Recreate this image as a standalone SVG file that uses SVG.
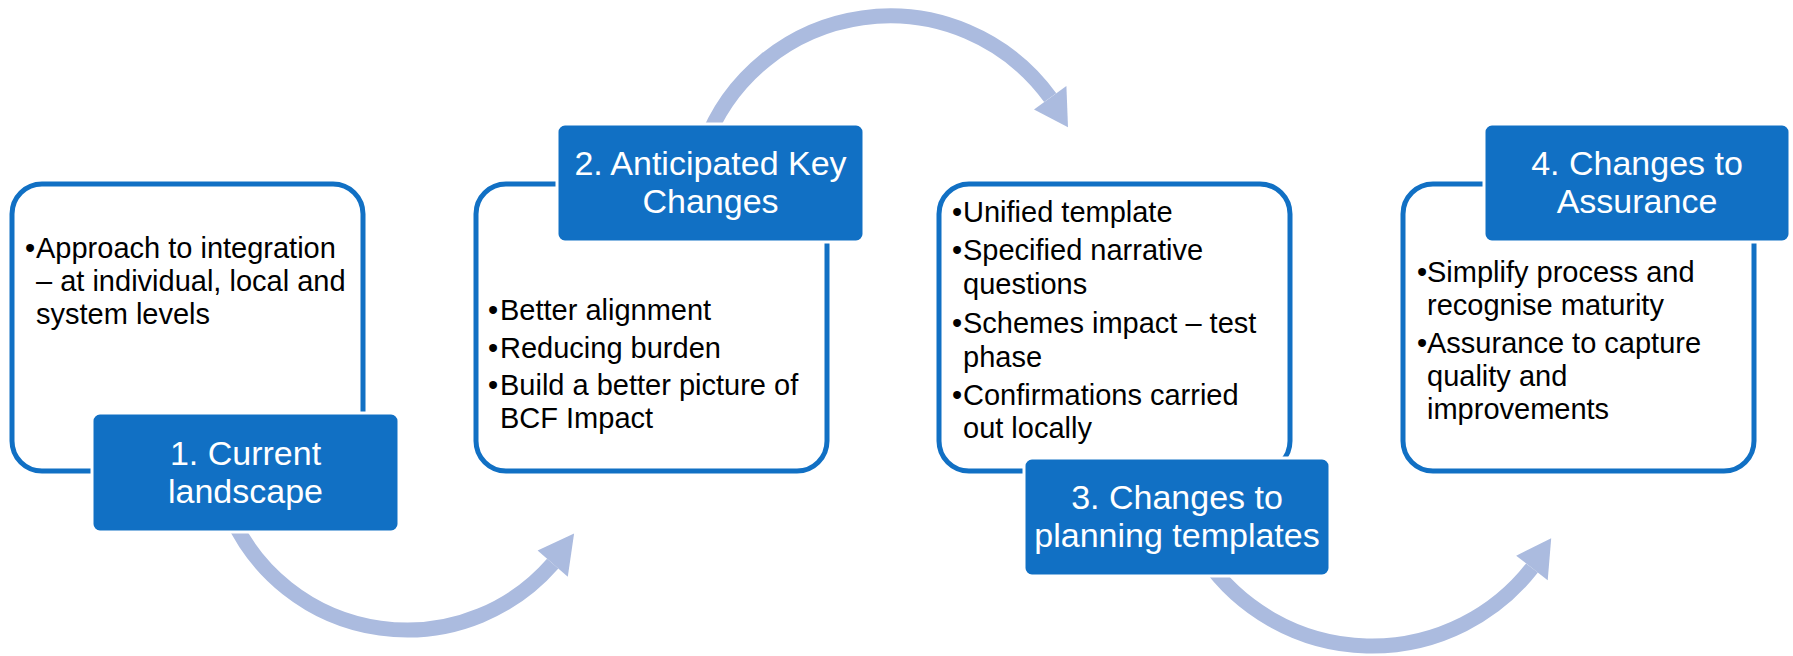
<svg xmlns="http://www.w3.org/2000/svg" width="1793" height="656" viewBox="0 0 1793 656">
<style>
.outline{fill:#FFFFFF;stroke:#1170C4;stroke-width:5}
.fill{fill:#1170C4;stroke:#FFFFFF;stroke-width:3}
.title{font-family:"Liberation Sans",Arial,sans-serif;font-size:34px;fill:#FFFFFF;text-anchor:middle}
.body{font-family:"Liberation Sans",Arial,sans-serif;font-size:29px;fill:#000000}
.arc{fill:none;stroke:#ABBBDF;stroke-width:15}
.head{fill:#ABBBDF}
</style>
<rect width="1793" height="656" fill="#FFFFFF"/>
<g id="outline1"><rect class="outline" x="12" y="184" width="351" height="287" rx="30"/>
<text class="body"><tspan x="25" y="258">•</tspan><tspan x="36" y="258">Approach to integration</tspan><tspan x="36" y="291">– at individual, local and</tspan><tspan x="36" y="324">system levels</tspan></text></g>
<g id="outline2"><rect class="outline" x="476" y="184" width="351" height="287" rx="30"/>
<text class="body"><tspan x="488" y="320">•</tspan><tspan x="500" y="320">Better alignment</tspan><tspan x="488" y="358">•</tspan><tspan x="500" y="358">Reducing burden</tspan><tspan x="488" y="395">•</tspan><tspan x="500" y="395">Build a better picture of</tspan><tspan x="500" y="428">BCF Impact</tspan></text></g>
<g id="outline3"><rect class="outline" x="939" y="184" width="351" height="287" rx="30"/>
<text class="body"><tspan x="952" y="222">•</tspan><tspan x="963" y="222">Unified template</tspan><tspan x="952" y="260">•</tspan><tspan x="963" y="260">Specified narrative</tspan><tspan x="963" y="294">questions</tspan><tspan x="952" y="333">•</tspan><tspan x="963" y="333">Schemes impact – test</tspan><tspan x="963" y="367">phase</tspan><tspan x="952" y="405">•</tspan><tspan x="963" y="405">Confirmations carried</tspan><tspan x="963" y="438">out locally</tspan></text></g>
<g id="outline4"><rect class="outline" x="1403" y="184" width="351" height="287" rx="30"/>
<text class="body"><tspan x="1417" y="282">•</tspan><tspan x="1427" y="282">Simplify process and</tspan><tspan x="1427" y="315">recognise maturity</tspan><tspan x="1417" y="353">•</tspan><tspan x="1427" y="353">Assurance to capture</tspan><tspan x="1427" y="386">quality and</tspan><tspan x="1427" y="419">improvements</tspan></text></g>
<g id="connectors">
<path class="arc" d="M 232.1 518.6 A 193 193 0 0 0 552.7 563.6"/>
<polygon class="head" points="537.6,550.5 567.8,576.7 574.1,533.5"/>
<path class="arc" d="M 703.9 146.3 A 198 198 0 0 1 1050.2 97.6"/>
<polygon class="head" points="1034,109.4 1066.4,85.9 1068,127.2"/>
<path class="arc" d="M 1205.7 559.4 A 203 203 0 0 0 1532 568"/>
<polygon class="head" points="1516.2,555.7 1547.7,580.3 1551.2,538.3"/>
</g>
<g id="step1"><rect class="fill" x="92" y="413" width="307" height="119" rx="8"/>
<text class="title"><tspan x="245.5" y="465">1. Current</tspan><tspan x="245.5" y="503">landscape</tspan></text></g>
<g id="step2"><rect class="fill" x="557" y="124" width="307" height="118" rx="8"/>
<text class="title"><tspan x="710.5" y="175">2. Anticipated Key</tspan><tspan x="710.5" y="213">Changes</tspan></text></g>
<g id="step3"><rect class="fill" x="1024" y="458" width="306" height="118" rx="8"/>
<text class="title"><tspan x="1177" y="509">3. Changes to</tspan><tspan x="1177" y="547">planning templates</tspan></text></g>
<g id="step4"><rect class="fill" x="1484" y="124" width="306" height="118" rx="8"/>
<text class="title"><tspan x="1637" y="175">4. Changes to</tspan><tspan x="1637" y="213">Assurance</tspan></text></g>
</svg>
